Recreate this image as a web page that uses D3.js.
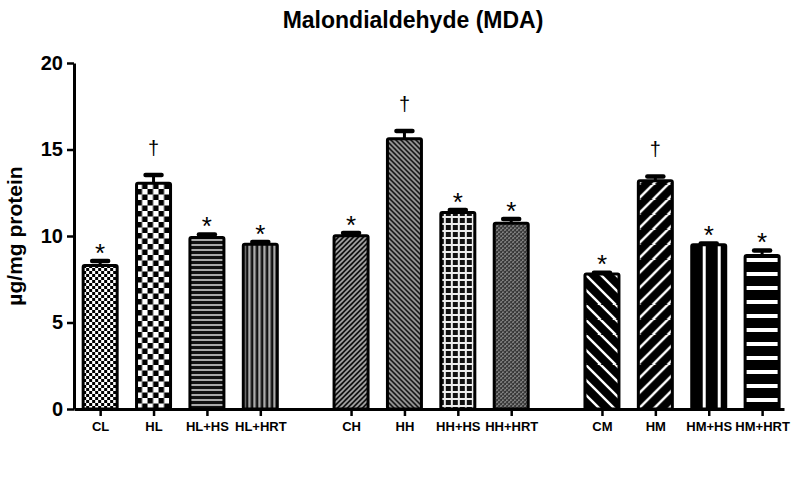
<!DOCTYPE html>
<html><head><meta charset="utf-8">
<script src="https://cdn.jsdelivr.net/npm/d3@7/dist/d3.min.js"></script>
<style>body{margin:0;background:#fff}text{font-family:"Liberation Sans",Arial,sans-serif}</style>
</head><body>
<svg id="c" width="799" height="499"></svg>
<script>
const categories = ["CL","HL","HL+HS","HL+HRT","CH","HH","HH+HS","HH+HRT","CM","HM","HM+HS","HM+HRT"];
const groups = [0,0,0,0,1,1,1,1,2,2,2,2];
const means = [8.29,13.05,9.91,9.53,10.01,15.62,11.36,10.74,7.81,13.2,9.49,8.87];
const errors = [0.26,0.48,0.18,0.12,0.16,0.45,0.14,0.24,0.07,0.24,0.07,0.29];
const marks = ["*","†","*","*","*","†","*","*","*","†","*","*"];
const yTicks = [0,5,10,15,20];
const title = "Malondialdehyde (MDA)";
const yLabel = "µg/mg protein";

const svg = d3.select("#c");
const groupGap = 0.7;
const pos = categories.map((c,i)=> i + groups[i]*groupGap);
const x = d3.scaleLinear().domain([-0.49, 12.81]).range([74, 784]);
const y = d3.scaleLinear().domain([0,20]).range([409,63]);
const barW = 34;

const defs = svg.append("defs");
function pat(id, i, w, h, build){
  const p = defs.append("pattern").attr("id",id).attr("patternUnits","userSpaceOnUse")
    .attr("width",w).attr("height",h)
    .attr("x", x(pos[i]) - barW/2).attr("y", y(0));
  build(p, w, h);
}
const builders = [
  (p)=>{p.append("rect").attr("width",6).attr("height",6).attr("fill","#fff");
        p.append("rect").attr("width",3).attr("height",3).attr("fill","#000");
        p.append("rect").attr("x",3).attr("y",3).attr("width",3).attr("height",3).attr("fill","#000");},
  (p)=>{p.append("rect").attr("width",11).attr("height",11).attr("fill","#fff");
        p.append("rect").attr("width",5.5).attr("height",5.5).attr("fill","#000");
        p.append("rect").attr("x",5.5).attr("y",5.5).attr("width",5.5).attr("height",5.5).attr("fill","#000");},
  (p)=>{p.append("rect").attr("width",5).attr("height",5).attr("fill","#111");
        p.append("rect").attr("y",0).attr("width",5).attr("height",2).attr("fill","#aaa");},
  (p)=>{p.append("rect").attr("width",5).attr("height",5).attr("fill","#111");
        p.append("rect").attr("x",0).attr("width",2.4).attr("height",5).attr("fill","#aaa");},
  (p,w)=>{p.append("rect").attr("width",w).attr("height",w).attr("fill","#111");
        p.append("path").attr("d",`M0,${w} L${w},0 M${-w/2},${w/2} L${w/2},${-w/2} M${w/2},${w*1.5} L${w*1.5},${w/2}`).attr("stroke","#aaa").attr("stroke-width",1.6);},
  (p,w)=>{p.append("rect").attr("width",w).attr("height",w).attr("fill","#111");
        p.append("path").attr("d",`M0,0 L${w},${w} M${-w/2},${w/2} L${w/2},${w*1.5} M${w/2},${-w/2} L${w*1.5},${w/2}`).attr("stroke","#aaa").attr("stroke-width",1.6);},
  (p)=>{p.append("rect").attr("width",7).attr("height",7).attr("fill","#111");
        p.append("rect").attr("x",3).attr("width",2).attr("height",7).attr("fill","#eee");
        p.append("rect").attr("y",3).attr("width",7).attr("height",2).attr("fill","#eee");},
  (p,w)=>{p.append("rect").attr("width",w).attr("height",w).attr("fill","#333");
        p.append("path").attr("d",`M0,${w} L${w},0 M${-w/2},${w/2} L${w/2},${-w/2} M${w/2},${w*1.5} L${w*1.5},${w/2}`).attr("stroke","#999").attr("stroke-width",1.5).attr("stroke-dasharray","2,1.2");},
  (p,w)=>{p.append("rect").attr("width",w).attr("height",w).attr("fill","#000");
        p.append("path").attr("d",`M0,0 L${w},${w} M${-w/2},${w/2} L${w/2},${w*1.5} M${w/2},${-w/2} L${w*1.5},${w/2}`).attr("stroke","#fff").attr("stroke-width",2.4);},
  (p,w)=>{p.append("rect").attr("width",w).attr("height",w).attr("fill","#000");
        p.append("path").attr("d",`M0,${w} L${w},0 M${-w/2},${w/2} L${w/2},${-w/2} M${w/2},${w*1.5} L${w*1.5},${w/2}`).attr("stroke","#fff").attr("stroke-width",2.4);},
  (p)=>{p.append("rect").attr("width",15).attr("height",15).attr("fill","#000");
        p.append("rect").attr("x",11).attr("width",3).attr("height",15).attr("fill","#fff");},
  (p)=>{p.append("rect").attr("width",14).attr("height",14).attr("fill","#000");
        p.append("rect").attr("y",3).attr("width",14).attr("height",4).attr("fill","#fff");}
];
const sizes = [6,11,5,5,5,5,7,4,15,15,15,14];
categories.forEach((c,i)=> pat("p"+i, i, sizes[i], sizes[i], builders[i]));

svg.append("text").attr("x",413).attr("y",28).attr("text-anchor","middle")
  .attr("font-size",23).attr("font-weight","bold").text(title);

svg.append("text").attr("transform","translate(22,236) rotate(-90)").attr("text-anchor","middle")
  .attr("font-size",21).attr("font-weight","bold").text(yLabel);

const data = categories.map((c,i)=>({c,i,m:means[i],e:errors[i],mk:marks[i],p:pos[i]}));
const g = svg.append("g");
g.selectAll("rect.bar").data(data).join("rect").attr("class","bar")
  .attr("x",d=>x(d.p)-barW/2).attr("width",barW)
  .attr("y",d=>y(d.m)).attr("height",d=>y(0)-y(d.m))
  .attr("fill",d=>`url(#p${d.i})`).attr("stroke","#000").attr("stroke-width",3).attr("rx",1.5);

g.selectAll("line.err").data(data).join("line").attr("class","err")
  .attr("x1",d=>x(d.p)).attr("x2",d=>x(d.p)).attr("y1",d=>y(d.m)).attr("y2",d=>y(d.m+d.e))
  .attr("stroke","#000").attr("stroke-width",3);
g.selectAll("line.cap").data(data).join("line").attr("class","cap")
  .attr("x1",d=>x(d.p)-8).attr("x2",d=>x(d.p)+8).attr("y1",d=>y(d.m+d.e)).attr("y2",d=>y(d.m+d.e))
  .attr("stroke","#000").attr("stroke-width",4.5).attr("stroke-linecap","round");

g.selectAll("text.mk").data(data).join("text").attr("class","mk")
  .attr("x",d=>x(d.p)).attr("y",d=> d.mk==="*" ? y(d.m+d.e)+0.5 : y(d.m+d.e)-20)
  .attr("text-anchor","middle").attr("font-size",d=>d.mk==="*"?26:20)
  .text(d=>d.mk);

const ya = svg.append("g").attr("transform","translate(74,0)")
  .call(d3.axisLeft(y).tickValues(yTicks).tickSize(7).tickSizeOuter(0).tickPadding(4));
ya.select(".domain").attr("stroke-width",3);
ya.selectAll(".tick line").attr("stroke-width",2.5);
ya.selectAll(".tick text").attr("font-size",20).attr("font-weight","bold").attr("fill","#000");

const xa = svg.append("g").attr("transform","translate(0,409)")
  .call(d3.axisBottom(x).tickValues(pos).tickFormat((d,i)=>categories[i]).tickSize(7).tickSizeOuter(0).tickPadding(6));
xa.select(".domain").attr("stroke-width",3);
xa.selectAll(".tick line").attr("stroke-width",2.5);
xa.selectAll(".tick text").attr("font-size",13).attr("font-weight","bold").attr("fill","#000");
</script>
</body></html>
